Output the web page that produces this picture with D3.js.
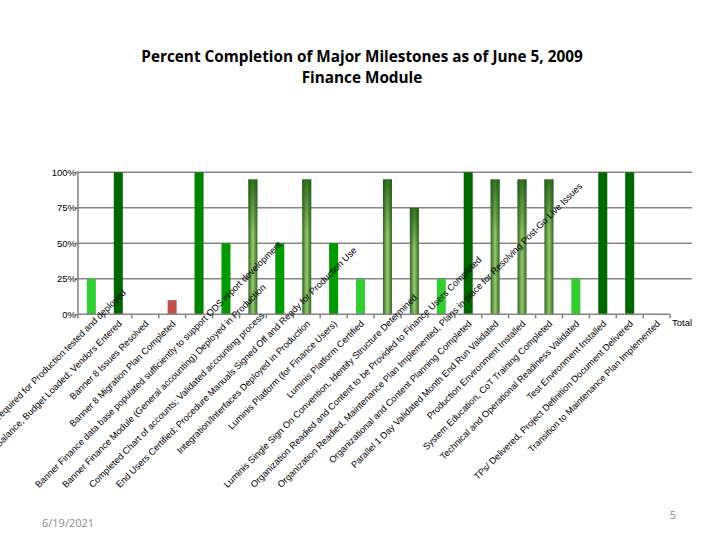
<!DOCTYPE html>
<html>
<head>
<meta charset="utf-8">
<script src="https://cdn.jsdelivr.net/npm/d3@7"></script>
<style>
  body { margin: 0; background: #fff; }
  svg { display: block; }
</style>
</head>
<body>
<svg id="chart" width="720" height="540"></svg>
<script>
// Milestones (category axis)
const milestones = [
    "Interfaces/Functionality required for Production tested and deployed",
    "Beginning Balance, Budget Loaded; Vendors Entered",
    "Banner 8 Issues Resolved",
    "Banner 8 Migration Plan Completed",
    "Banner Finance data base populated sufficiently to support ODS report development",
    "Banner Finance Module (General accounting) Deployed in Production",
    "Completed Chart of accounts; Validated accounting process",
    "End Users Certified; Procedure Manuals Signed Off and Ready for Production Use",
    "Integration/Interfaces Deployed in Production",
    "Luminis Platform (for Finance Users)",
    "Luminis Platform Certified",
    "Luminis Single Sign On Convention, Identify Structure Determined",
    "Organization Readied and Content to be Provided to Finance Users Completed",
    "Organization Readied, Maintenance Plan Implemented, Plans in place for Resolving Post-Go Live Issues",
    "Organizational and Content Planning Completed",
    "Parallel 1 Day Validated Month End Run Validated",
    "Production Environment Installed",
    "System Education, CoT Training Completed",
    "Technical and Operational Readiness Validated",
    "Test Environment Installed",
    "TPs/ Delivered, Project Definition Document Delivered",
    "Transition to Maintenance Plan Implemented"
];

// Percent complete per milestone
const percentDone = [25, 100, 0, 10, 100, 50, 95, 50, 95, 50, 25, 95, 75, 25, 100, 95, 95, 95, 25, 100, 100, 0];

// Status used for the bar colour
const status = ["low", "full", "none", "late", "fullAlt", "half", "high", "half", "high", "half", "low",
                "high", "high", "low", "full", "high", "high", "high", "low", "full", "full", "none"];

const yTicks = [0, 25, 50, 75, 100];
const titleLines = ["Percent Completion of Major Milestones as of June 5, 2009", "Finance Module"];
const seriesName = "Total";
const footerDate = "6/19/2021";
const pageNumber = "5";

const statusFill = {
    full: "#006600",
    fullAlt: "#008400",
    half: "#009a00",
    high: "url(#cyl)",
    low: "#33cc33",
    late: "#c0504d",
    none: "none"
};

const svg = d3.select("#chart");
const plotLeft = 78, plotRight = 670, plotTop = 172.3, plotBottom = 314.3;

// gradient for the "nearly done" bars
const defs = svg.append("defs");
const cyl = defs.append("linearGradient").attr("id", "cyl")
    .attr("x1", "0").attr("x2", "1").attr("y1", "0").attr("y2", "0");
cyl.append("stop").attr("offset", "0%").attr("stop-color", "#2c6a1f");
cyl.append("stop").attr("offset", "50%").attr("stop-color", "#9cc673");
cyl.append("stop").attr("offset", "100%").attr("stop-color", "#2c6a1f");
const shade = defs.append("linearGradient").attr("id", "shade")
    .attr("x1", "0").attr("x2", "0").attr("y1", "0").attr("y2", "1");
shade.append("stop").attr("offset", "0%").attr("stop-color", "#1f5c14").attr("stop-opacity", 0.8);
shade.append("stop").attr("offset", "40%").attr("stop-color", "#1f5c14").attr("stop-opacity", 0);

const x = d3.scaleBand()
    .domain(d3.range(milestones.length))
    .range([plotLeft, plotRight])
    .paddingInner(0.665)
    .paddingOuter(0.33);

const y = d3.scaleLinear().domain([0, 100]).range([plotBottom, plotTop]);

// Title
svg.append("g").selectAll("text")
    .data(titleLines)
    .join("text")
    .attr("x", 362)
    .attr("y", (d, i) => 62 + i * 21)
    .attr("text-anchor", "middle")
    .attr("font-family", "Open Sans, sans-serif")
    .attr("font-weight", "bold")
    .attr("font-size", "15.3px")
    .attr("fill", "#000")
    .text(d => d);

// Gridlines
svg.append("g").selectAll("line")
    .data(yTicks.filter(d => d > 0))
    .join("line")
    .attr("x1", plotLeft - 3).attr("x2", 692)
    .attr("y1", d => y(d)).attr("y2", d => y(d))
    .attr("stroke", "#868686")
    .attr("stroke-width", 1.6);

// Y axis
const yAxis = svg.append("g")
    .attr("transform", `translate(${plotLeft},0)`)
    .call(d3.axisLeft(y).tickValues(yTicks).tickSize(3).tickFormat(d => d + "%"));
yAxis.selectAll("path, line").attr("stroke", "#868686").attr("stroke-width", 1.6);
yAxis.select(".domain").attr("d", `M0,${plotTop}V${plotBottom}`);
yAxis.selectAll("text")
    .attr("font-family", "Liberation Sans, Arial, sans-serif")
    .attr("font-size", "9.5px")
    .attr("fill", "#000")
    .attr("x", -2);

// Bars
const bars = svg.append("g");
percentDone.forEach((v, i) => {
    if (v <= 0) return;
    const bx = x(i), bw = x.bandwidth();
    bars.append("rect")
        .attr("x", bx).attr("y", y(v))
        .attr("width", bw).attr("height", y(0) - y(v))
        .attr("fill", statusFill[status[i]]);
    if (status[i] === "high") {
        bars.append("rect")
            .attr("x", bx).attr("y", y(v))
            .attr("width", bw).attr("height", y(0) - y(v))
            .attr("fill", "url(#shade)");
    }
});

// Category axis with tick marks between categories
const step = x.step();
const xAxis = svg.append("g");
xAxis.append("line")
    .attr("x1", plotLeft).attr("x2", plotRight)
    .attr("y1", plotBottom).attr("y2", plotBottom)
    .attr("stroke", "#868686").attr("stroke-width", 1.6);
xAxis.selectAll("line.tick")
    .data(d3.range(milestones.length + 1))
    .join("line")
    .attr("class", "tick")
    .attr("x1", d => plotLeft + d * step).attr("x2", d => plotLeft + d * step)
    .attr("y1", plotBottom).attr("y2", plotBottom + 4)
    .attr("stroke", "#868686").attr("stroke-width", 1.6);

// Rotated labels: end at the tick, but start never goes further than maxRun
const maxRun = 232;
const k = Math.SQRT1_2;
const labels = svg.append("g")
    .attr("font-family", "Liberation Sans, Arial, sans-serif")
    .attr("font-size", "9.2px")
    .attr("fill", "#000");
milestones.forEach((m, i) => {
    const t = labels.append("text").attr("text-anchor", "end").text(m);
    const len = t.node().getComputedTextLength();
    const shift = Math.max(0, len - maxRun);
    const px = x(i) + x.bandwidth() / 2 + 4 + shift * k;
    const py = plotBottom + 10 - shift * k;
    t.attr("transform", `translate(${px},${py}) rotate(-45)`);
});

// Series name at the end of the axis
svg.append("text")
    .attr("x", 672).attr("y", 326)
    .attr("font-family", "Liberation Sans, Arial, sans-serif")
    .attr("font-size", "9.5px")
    .text(seriesName);

// Footer
svg.append("text")
    .attr("x", 42).attr("y", 527)
    .attr("font-family", "Open Sans, sans-serif")
    .attr("font-size", "11px")
    .attr("fill", "#8a8a8a")
    .text(footerDate);
svg.append("text")
    .attr("x", 676).attr("y", 519)
    .attr("text-anchor", "end")
    .attr("font-family", "Open Sans, sans-serif")
    .attr("font-size", "11px")
    .attr("fill", "#8a8a8a")
    .text(pageNumber);
</script>
</body>
</html>
